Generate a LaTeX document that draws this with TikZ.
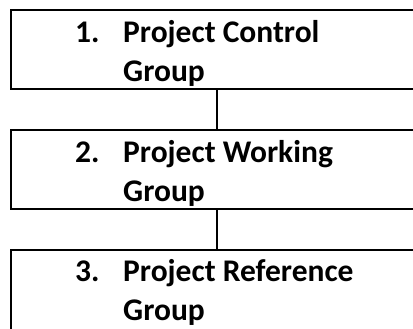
\documentclass[tikz,border=0pt]{standalone}
\usepackage{fontspec}
\setmainfont{Carlito}
\begin{document}
\begin{tikzpicture}[x=1pt,y=-1pt,
	groupbox/.style={draw=black, line width=2pt, rectangle, anchor=north west, minimum width=440pt, inner sep=0pt, outer sep=0pt},
	itemtext/.style={anchor=base west, inner sep=0pt, font=\fontsize{31.5}{40}\selectfont\bfseries},
	link/.style={draw=black, line width=2pt}]
	\clip (0,0) rectangle (413,329);
	\coordinate (spine) at (217,0);
	% boxes
	\node[groupbox, minimum height=79pt] (control) at (11,10) {};
	\node[groupbox, minimum height=79pt] (working) at (11,130) {};
	\node[groupbox, minimum height=100pt] (reference) at (11,250) {};
	% texts
	\node[itemtext] (num1) at (75,42.5) {1.};
	\node[itemtext] (control1) at (123,42.5) {Project Control};
	\node[itemtext] (control2) at (123,82) {Group};
	\node[itemtext] (num2) at (75,162) {2.};
	\node[itemtext] (working1) at (123,162) {Project Working};
	\node[itemtext] (working2) at (123,201.5) {Group};
	\node[itemtext] (num3) at (75,281) {3.};
	\node[itemtext] (reference1) at (123,281) {Project Reference};
	\node[itemtext] (reference2) at (123,320.5) {Group};
	% connectors
	\draw[link] (control.south -| spine) -- (working.north -| spine);
	\draw[link] (working.south -| spine) -- (reference.north -| spine);
\end{tikzpicture}
\end{document}
